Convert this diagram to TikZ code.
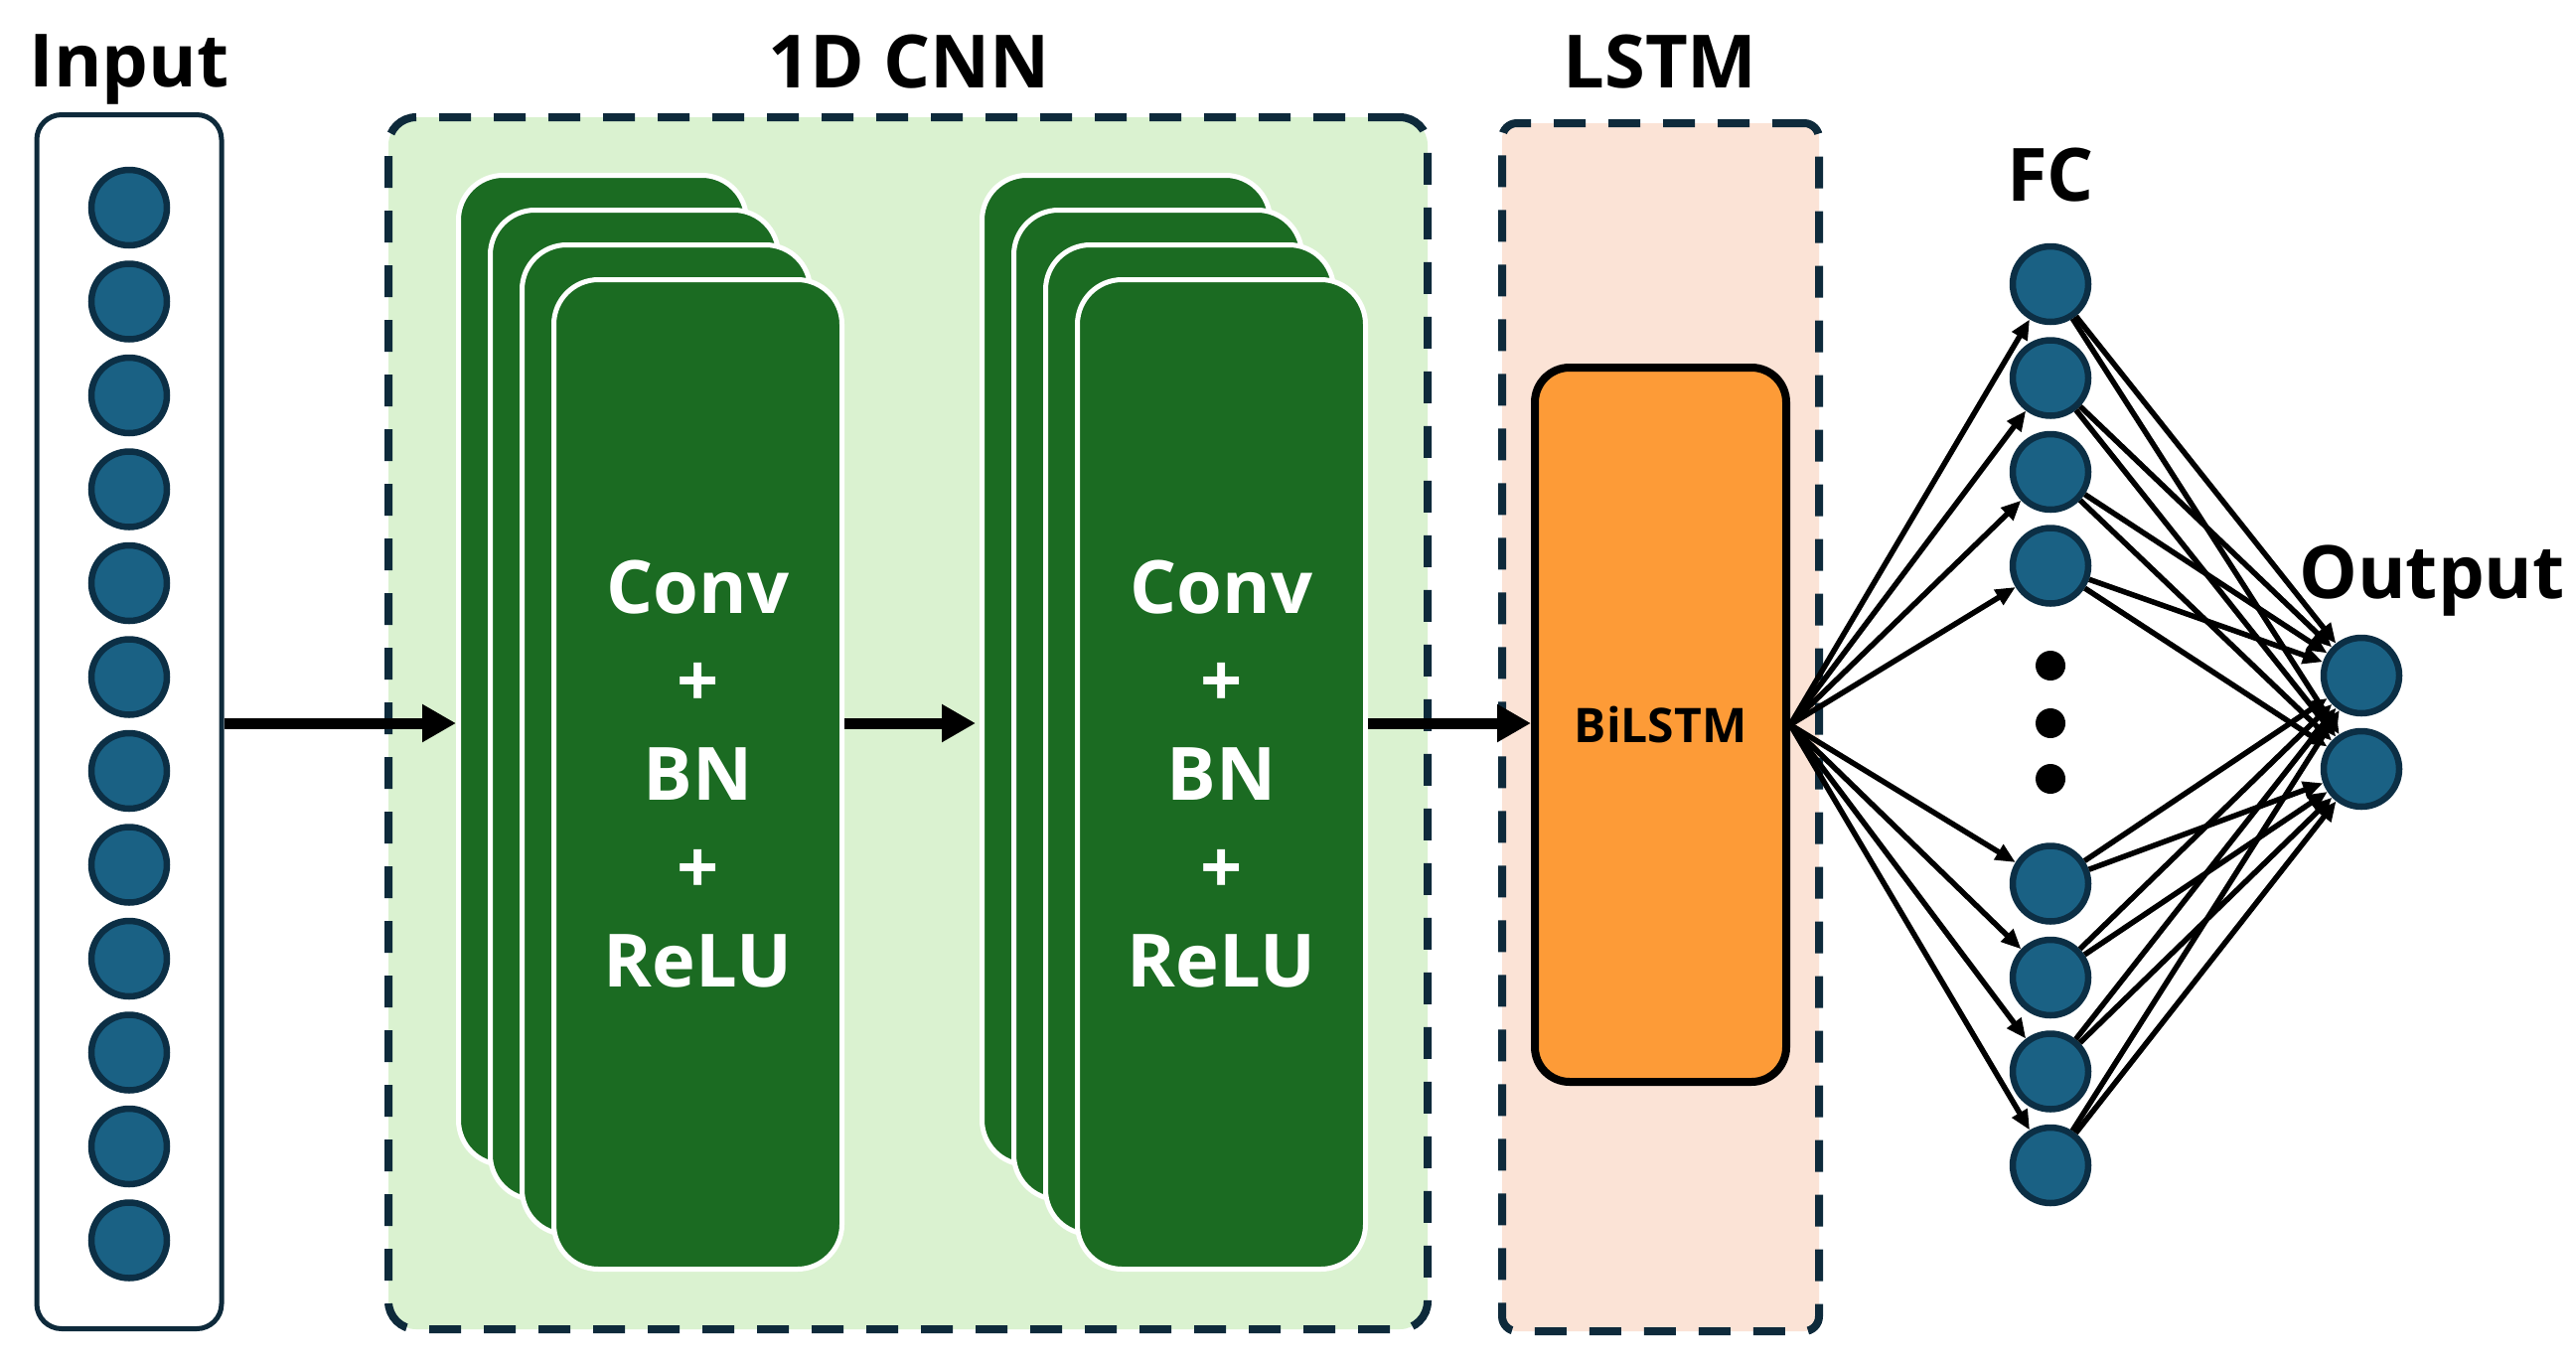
\documentclass[tikz,border=0pt]{standalone}
\usepackage{fontspec}
\setmainfont{Open Sans}
\usetikzlibrary{arrows.meta}
\definecolor{navy}{HTML}{0E2A3B}
\definecolor{nodeline}{HTML}{0C2F45}
\definecolor{nodefill}{HTML}{1A6184}
\definecolor{convgreen}{HTML}{1B6B22}
\definecolor{lightgreen}{HTML}{DAF2D0}
\definecolor{peach}{HTML}{FBE3D6}
\definecolor{lstmorange}{HTML}{FD9B37}
\begin{document}
\begin{tikzpicture}[x=1pt,y=-1pt,
  neuron/.style={circle, draw=nodeline, fill=nodefill, line width=6.5pt, minimum size=76pt, inner sep=0pt},
  convbox/.style={draw=white, fill=convgreen, line width=5pt, rounded corners=45pt, minimum width=290pt, minimum height=996pt, inner sep=0pt, anchor=north west},
  bigarrow/.style={line width=11pt, -{Triangle[length=34pt,width=36pt]}},
  fan/.style={line width=5.5pt, -{Triangle[length=20pt,width=17pt]}},
  titletext/.style={font=\fontsize{74}{94}\selectfont\bfseries, anchor=base, inner sep=0pt},
  convtext/.style={font=\fontsize{74}{94}\selectfont\bfseries, text=white, align=center, inner sep=0pt},
  groupbox/.style={draw=navy, line width=8pt, dash pattern=on 32pt off 23pt, inner sep=0pt},
  dotnode/.style={circle, fill=black, minimum size=30pt, inner sep=0pt}
]
\useasboundingbox[fill=white] (0,0) rectangle (2593,1371);
\coordinate (ay) at (0,728);

% titles
\node[titletext] (tin) at (130,87) {Input};
\node[titletext] (tcnn) at (915,88) {1D CNN};
\node[titletext] (tlstm) at (1671,88) {LSTM};
\node[titletext] (tfc) at (2064,202) {FC};
\node[titletext] (tout) at (2448,602) {Output};

% input column
\node[draw=navy, fill=white, line width=5pt, rounded corners=25pt, minimum width=186pt, minimum height=1222pt, inner sep=0pt] (inbox) at (130,726.5) {};
\foreach \i in {0,...,11} {
  \node[neuron] (in\i) at (130,{209+94.5*\i}) {};
}

% CNN group
\node[groupbox, fill=lightgreen, rounded corners=28pt, minimum width=1046pt, minimum height=1220pt] (cnnbox) at (914,728) {};
\foreach \k in {0,...,3} {
  \node[convbox] (sa\k) at ({459+32*\k},{174+35*\k}) {};
}
\node[convtext] (ta) at (sa3.center) {Conv\\+\\BN\\+\\ReLU};
\foreach \k in {0,...,3} {
  \node[convbox] (sb\k) at ({986+32*\k},{174+35*\k}) {};
}
\node[convtext] (tb) at (sb3.center) {Conv\\+\\BN\\+\\ReLU};

% LSTM group
\node[groupbox, fill=peach, rounded corners=15pt, minimum width=319pt, minimum height=1216pt] (lstmbox) at (1671.5,732) {};
\node[draw=black, fill=lstmorange, line width=8pt, rounded corners=35pt, minimum width=253pt, minimum height=719pt, inner sep=0pt] (bilstm) at (1671.5,729.5) {};
\node[font=\fontsize{48}{58}\selectfont\bfseries, inner sep=0pt] (tbil) at (bilstm.center) {BiLSTM};

% big arrows
\draw[bigarrow] (inbox.east |- ay) -- (sa0.west |- ay);
\draw[bigarrow, shorten >=4pt] (sa3.east |- ay) -- (sb0.west |- ay);
\draw[bigarrow] (sb3.east |- ay) -- (bilstm.west |- ay);

% FC layer
\foreach \i/\y in {1/286,2/380.5,3/475,4/569.5,5/889.5,6/984,7/1078.5,8/1173} {
  \node[neuron] (fc\i) at (2064,\y) {};
}
\node[dotnode] (d1) at (2064,670) {};
\node[dotnode] (d2) at (2064,728) {};
\node[dotnode] (d3) at (2064,784) {};

% output
\node[neuron] (out1) at (2377,680) {};
\node[neuron] (out2) at (2377,774) {};

% connections
\foreach \i in {1,...,8} {
  \draw[fan] (bilstm.east) -- (fc\i);
}
\foreach \i in {1,...,8} {
  \foreach \o in {out1,out2} {
    \draw[fan] (fc\i) -- (\o);
  }
}
\end{tikzpicture}
\end{document}
